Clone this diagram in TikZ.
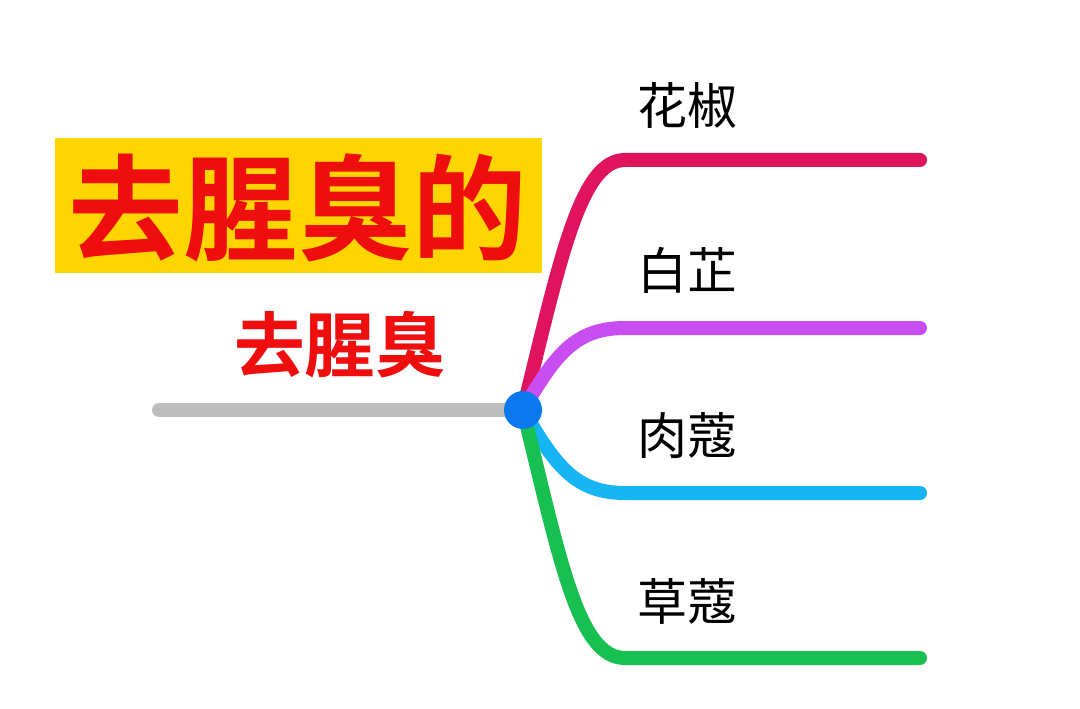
\documentclass[tikz,border=0pt]{standalone}
\usepackage{fontspec}
\newfontfamily\cjk[BoldFont=* Bold]{Noto Sans CJK SC}
\definecolor{boxyellow}{HTML}{FFD500}
\definecolor{titlered}{HTML}{EE0E0E}
\definecolor{crim}{HTML}{E0135E}
\definecolor{purp}{HTML}{C94EF2}
\definecolor{cyanb}{HTML}{18B5F4}
\definecolor{greenb}{HTML}{17C050}
\definecolor{dotblue}{HTML}{0B78EE}
\definecolor{greyl}{HTML}{BEBEBE}
\tikzset{
  branch/.style={line width=10.5pt, line cap=round},
  leaf/.style={font=\cjk\fontsize{37.5pt}{40pt}\selectfont, text=black, inner sep=0pt}
}
\begin{document}
\begin{tikzpicture}[x=0.75pt,y=-0.75pt]
\useasboundingbox (0,0) rectangle (1080,709);
\fill[white] (0,0) rectangle (1080,709);
\node[fill=boxyellow, minimum width=487*0.75pt, minimum height=135*0.75pt, inner sep=0pt] (title) at (298.5,205.5) {};
\node[font=\cjk\bfseries\fontsize{86pt}{90pt}\selectfont, text=titlered, inner sep=0pt] (titletext) at (298,208) {去腥臭的};
\node[font=\cjk\bfseries\fontsize{53pt}{56pt}\selectfont, text=titlered, inner sep=0pt] (sub) at (340,345) {去腥臭};
\coordinate (root) at (159,410);
\coordinate (hub) at (523,410);
\coordinate (e1) at (920,160);
\coordinate (e2) at (920,328);
\coordinate (e3) at (920,493);
\coordinate (e4) at (920,658);
\draw[branch, greyl] (root) -- (hub);
\draw[branch, crim] (hub) .. controls (560,260) and (580,160) .. (625,160) -- (e1);
\draw[branch, purp] (hub) .. controls (555,355) and (575,328) .. (625,328) -- (e2);
\draw[branch, cyanb] (hub) .. controls (555,465) and (575,493) .. (625,493) -- (e3);
\draw[branch, greenb] (hub) .. controls (560,560) and (578,658) .. (625,658) -- (e4);
\fill[dotblue] (hub) circle (19);
\node[leaf] (l1) at (687,106) {花椒};
\node[leaf] (l2) at (687,270) {白芷};
\node[leaf] (l3) at (687,436) {肉蔻};
\node[leaf] (l4) at (687,601) {草蔻};
\end{tikzpicture}
\end{document}
